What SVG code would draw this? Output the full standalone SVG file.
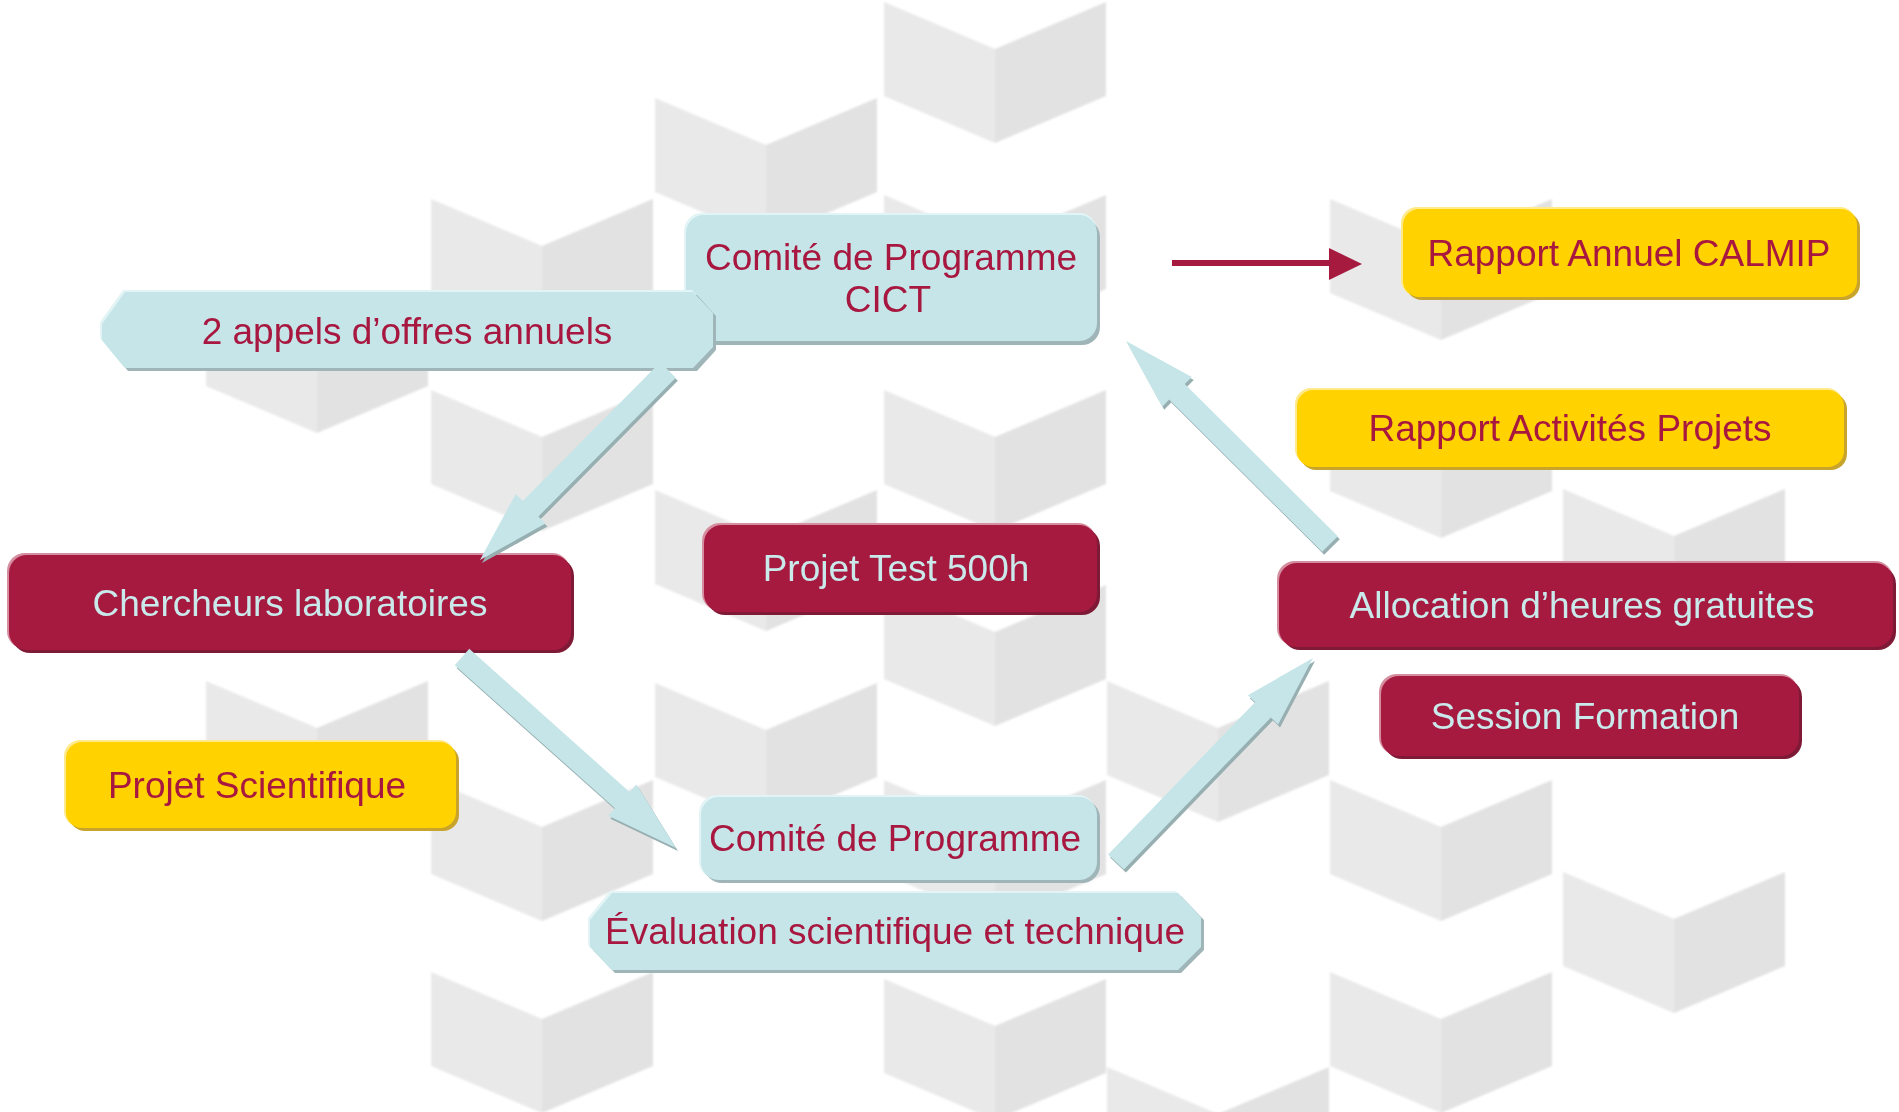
<svg xmlns="http://www.w3.org/2000/svg" xmlns:xlink="http://www.w3.org/1999/xlink" width="1899" height="1112" viewBox="0 0 1899 1112">
  <style>
    .lbl { font-family: "Liberation Sans", Arial, sans-serif; font-size: 37px; text-anchor: middle; }
    .dark { fill: #a8173f; }
    .light { fill: #c9e9eb; }
    .cy { fill: #c5e5e8; }
    .cy-sh { fill: #9fb5b8; }
    .cy-hi { fill: #e2f4f5; }
    .cr { fill: #a71a40; }
    .cr-sh { fill: #7f1a36; }
    .cr-hi { fill: #d58ea0; }
    .ye { fill: #ffd200; }
    .ye-sh { fill: #c9a42c; }
    .ye-hi { fill: #ffe98a; }
    .arw { fill: #c5e5e8; }
    .arw-sh { fill: #98afb2; }
    .faceL { fill: #e9e9e9; }
    .faceR { fill: #e2e2e2; }
  </style>
  <defs>
    <!-- open box: two side faces of an isometric cube, origin at the centre of its top edge -->
    <g id="cube">
      <polygon class="faceL" points="-111,0 0,47 0,141 -111,94"/>
      <polygon class="faceR" points="0,47 111,0 111,94 0,141"/>
    </g>
    <filter id="soft" x="-2%" y="-2%" width="104%" height="104%">
      <feGaussianBlur stdDeviation="1.3"/>
    </filter>
  </defs>

  <rect width="1899" height="1112" fill="#ffffff"/>

  <!-- background cube pattern -->
  <g id="background" filter="url(#soft)">
    <use xlink:href="#cube" x="317" y="292"/>
    <use xlink:href="#cube" x="317" y="681"/>
    <use xlink:href="#cube" x="542" y="199"/>
    <use xlink:href="#cube" x="542" y="390"/>
    <use xlink:href="#cube" x="542" y="780"/>
    <use xlink:href="#cube" x="542" y="972"/>
    <use xlink:href="#cube" x="766" y="98"/>
    <use xlink:href="#cube" x="766" y="490"/>
    <use xlink:href="#cube" x="766" y="683"/>
    <use xlink:href="#cube" x="995" y="2"/>
    <use xlink:href="#cube" x="995" y="195"/>
    <use xlink:href="#cube" x="995" y="390"/>
    <use xlink:href="#cube" x="995" y="585"/>
    <use xlink:href="#cube" x="995" y="780"/>
    <use xlink:href="#cube" x="995" y="979"/>
    <use xlink:href="#cube" x="1218" y="681"/>
    <use xlink:href="#cube" x="1218" y="1067"/>
    <use xlink:href="#cube" x="1441" y="199"/>
    <use xlink:href="#cube" x="1441" y="397"/>
    <use xlink:href="#cube" x="1441" y="780"/>
    <use xlink:href="#cube" x="1441" y="972"/>
    <use xlink:href="#cube" x="1674" y="489"/>
    <use xlink:href="#cube" x="1674" y="872"/>
  </g>

  <!-- nodes -->
  <g id="node-cict">
    <rect class="cy-hi" x="684" y="213" width="413" height="128" rx="18"/>
    <rect class="cy-sh" x="689" y="219" width="411" height="126" rx="18"/>
    <rect class="cy" x="686" y="215" width="411" height="126" rx="18"/>
    <text class="lbl dark" x="891" y="270">Comité de Programme</text>
    <text class="lbl dark" x="888" y="312">CICT</text>
  </g>

  <g id="node-appels">
    <polygon class="cy-hi" points="123,290 692,290 711,311 711,345 692,366 123,366 100,338 100,322"/>
    <polygon class="cy-sh" points="128,295 697,295 716,316 716,350 697,371 128,371 105,343 105,327"/>
    <polygon class="cy" points="125,292 693,292 713,313 713,347 693,368 125,368 102,340 102,324"/>
    <text class="lbl dark" x="407" y="344">2 appels d’offres annuels</text>
  </g>

  <g id="node-rapport-annuel">
    <rect class="ye-hi" x="1401" y="207" width="455" height="89" rx="16"/>
    <rect class="ye-sh" x="1406" y="212" width="454" height="88" rx="16"/>
    <rect class="ye" x="1403" y="209" width="454" height="88" rx="16"/>
    <text class="lbl dark" x="1629" y="266">Rapport Annuel CALMIP</text>
  </g>

  <g id="node-rapport-activites">
    <rect class="ye-hi" x="1295" y="388" width="548" height="77" rx="16"/>
    <rect class="ye-sh" x="1300" y="393" width="547" height="77" rx="16"/>
    <rect class="ye" x="1297" y="390" width="547" height="77" rx="16"/>
    <text class="lbl dark" x="1570" y="441">Rapport Activités Projets</text>
  </g>

  <g id="node-chercheurs">
    <rect class="cr-hi" x="7" y="553" width="563" height="96" rx="18"/>
    <rect class="cr-sh" x="12" y="558" width="562" height="95" rx="18"/>
    <rect class="cr" x="9" y="555" width="562" height="95" rx="18"/>
    <text class="lbl light" x="290" y="616">Chercheurs laboratoires</text>
  </g>

  <g id="node-projet-test">
    <rect class="cr-hi" x="702" y="523" width="394" height="88" rx="18"/>
    <rect class="cr-sh" x="707" y="528" width="393" height="87" rx="18"/>
    <rect class="cr" x="704" y="525" width="393" height="87" rx="18"/>
    <text class="lbl light" x="896" y="581">Projet Test 500h</text>
  </g>

  <g id="node-allocation">
    <rect class="cr-hi" x="1277" y="561" width="616" height="85" rx="18"/>
    <rect class="cr-sh" x="1282" y="566" width="614" height="84" rx="18"/>
    <rect class="cr" x="1279" y="563" width="614" height="84" rx="18"/>
    <text class="lbl light" x="1582" y="618">Allocation d’heures gratuites</text>
  </g>

  <g id="node-session">
    <rect class="cr-hi" x="1379" y="674" width="419" height="81" rx="18"/>
    <rect class="cr-sh" x="1384" y="679" width="418" height="80" rx="18"/>
    <rect class="cr" x="1381" y="676" width="418" height="80" rx="18"/>
    <text class="lbl light" x="1585" y="729">Session Formation</text>
  </g>

  <g id="node-projet-scientifique">
    <rect class="ye-hi" x="64" y="740" width="391" height="87" rx="16"/>
    <rect class="ye-sh" x="69" y="745" width="390" height="86" rx="16"/>
    <rect class="ye" x="66" y="742" width="390" height="86" rx="16"/>
    <text class="lbl dark" x="257" y="798">Projet Scientifique</text>
  </g>

  <g id="node-comite">
    <rect class="cy-hi" x="699" y="795" width="397" height="84" rx="18"/>
    <rect class="cy-sh" x="704" y="800" width="396" height="83" rx="18"/>
    <rect class="cy" x="701" y="797" width="396" height="83" rx="18"/>
    <text class="lbl dark" x="895" y="851">Comité de Programme</text>
  </g>

  <g id="node-evaluation">
    <polygon class="cy-hi" points="610,891 1176,891 1199,915 1199,945 1176,968 610,968 588,945 588,918"/>
    <polygon class="cy-sh" points="615,896 1181,896 1204,920 1204,950 1181,973 615,973 593,950 593,923"/>
    <polygon class="cy" points="612,893 1178,893 1201,917 1201,947 1178,970 612,970 590,947 590,920"/>
    <text class="lbl dark" x="895" y="944">Évaluation scientifique et technique</text>
  </g>

  <!-- connectors -->
  <g id="connectors">
    <!-- appels -> chercheurs -->
    <g transform="translate(2,3)">
      <polygon class="arw-sh" points="660.2,362.3 522.8,501.1 515.7,494.0 480,560 545.5,523.6 538.4,516.5 675.8,377.7"/>
    </g>
    <polygon class="arw" points="660.2,362.3 522.8,501.1 515.7,494.0 480,560 545.5,523.6 538.4,516.5 675.8,377.7"/>

    <!-- chercheurs -> comite -->
    <g transform="translate(2,3)">
      <polygon class="arw-sh" points="454.7,665.2 615.0,808.3 608.3,815.8 676,848 636.3,784.4 629.6,791.9 469.3,648.8"/>
    </g>
    <polygon class="arw" points="454.7,665.2 615.0,808.3 608.3,815.8 676,848 636.3,784.4 629.6,791.9 469.3,648.8"/>

    <!-- comite -> allocation -->
    <g transform="translate(2,3)">
      <polygon class="arw-sh" points="1123.9,869.6 1270.9,717.4 1278.1,724.4 1313,658 1247.9,695.2 1255.1,702.2 1108.1,854.4"/>
    </g>
    <polygon class="arw" points="1123.9,869.6 1270.9,717.4 1278.1,724.4 1313,658 1247.9,695.2 1255.1,702.2 1108.1,854.4"/>

    <!-- allocation -> cict -->
    <g transform="translate(2,3)">
      <polygon class="arw-sh" points="1337.8,536.2 1184.8,384.0 1191.8,376.9 1126,341 1162.2,406.7 1169.2,399.6 1322.2,551.8"/>
    </g>
    <polygon class="arw" points="1337.8,536.2 1184.8,384.0 1191.8,376.9 1126,341 1162.2,406.7 1169.2,399.6 1322.2,551.8"/>

    <!-- cict -> rapport annuel -->
    <line x1="1172" y1="263" x2="1332" y2="263" stroke="#a71a40" stroke-width="6"/>
    <polygon fill="#a71a40" points="1329,248 1362,264 1329,280"/>
  </g>
</svg>
